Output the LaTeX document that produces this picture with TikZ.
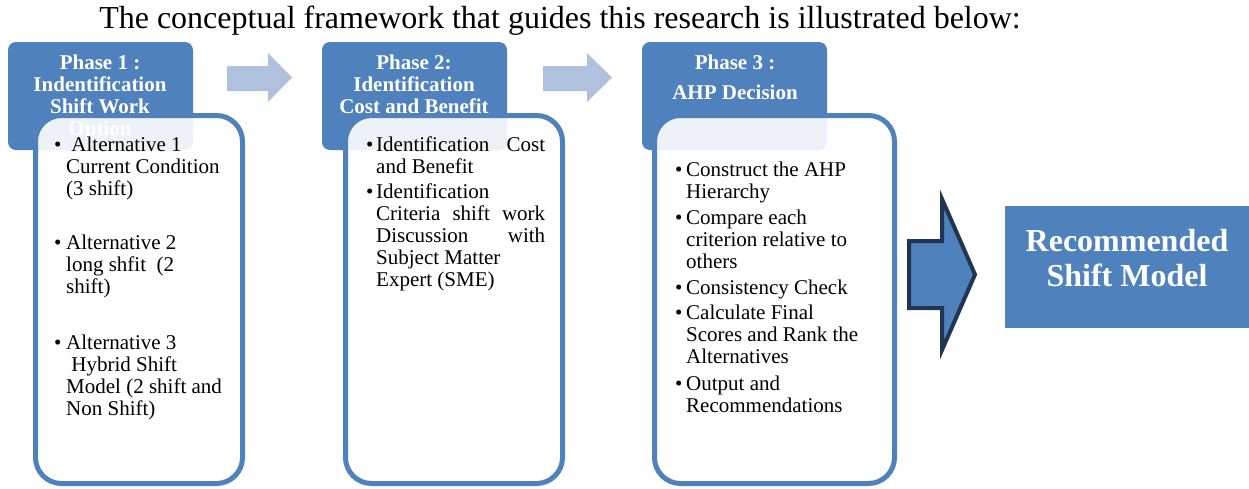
\documentclass[tikz,border=0pt]{standalone}
\usepackage{fontspec}
\setmainfont{Liberation Serif}
\definecolor{phaseblue}{RGB}{79,129,189}
\definecolor{paleblue}{RGB}{176,193,222}
\definecolor{navy}{RGB}{31,53,82}
% bullet item with hanging lines; #1 = width reserved for the bullet
\newcommand{\bitem}[2]{\makebox[#1][l]{\textbullet}\begin{tabular}[t]{@{}l@{}}#2\end{tabular}}
\newcommand{\jline}[1]{\makebox[169pt][s]{#1}}
\newcommand{\hlines}[1]{\begin{tabular}[t]{@{}c@{}}#1\end{tabular}}
\begin{document}
\begin{tikzpicture}[x=1pt,y=-1pt,
  header/.style={fill=phaseblue, rounded corners=8pt, inner sep=0, outer sep=0},
  panel/.style={draw=phaseblue, line width=5pt, fill=white, fill opacity=0.9,
                rounded corners=26pt, inner sep=0, outer sep=0},
  htext/.style={text=white, font=\bfseries\fontsize{21}{22}\selectfont,
                inner sep=0, anchor=base},
  btext/.style={font=\fontsize{21}{22}\selectfont, inner sep=0, anchor=base west},
  flow/.style={fill=paleblue},
  result/.style={fill=phaseblue, inner sep=0},
  resulttext/.style={text=white, align=center, inner sep=0,
                 font=\bfseries\fontsize{32}{35}\selectfont}]
\useasboundingbox (0,0) rectangle (1249,488);

% title line
\node[anchor=base, inner sep=0, font=\fontsize{32}{34}\selectfont] (title) at (560,28)
  {The conceptual framework that guides this research is illustrated below:};

% phase headers
\node[header, minimum width=185pt, minimum height=108pt] (h1) at (100.5,96) {};
\node[header, minimum width=185pt, minimum height=108pt] (h2) at (414.5,96) {};
\node[header, minimum width=185pt, minimum height=108pt] (h3) at (734.5,96) {};
\node[htext] (t1) at (100,69) {\hlines{Phase 1 :\\Indentification\\Shift Work\\Option}};
\node[htext] (t2) at (414,69) {\hlines{Phase 2:\\Identification\\Cost and Benefit}};
\node[htext] (t3) at (735,69) {\hlines{Phase 3 :\\[8pt]AHP Decision}};

% content panels
\node[panel, minimum width=207pt, minimum height=368pt] (p1) at (139,299.5) {};
\node[panel, minimum width=217pt, minimum height=368pt] (p2) at (454,299.5) {};
\node[panel, minimum width=240pt, minimum height=368pt] (p3) at (774.5,299.5) {};

% phase 1 items
\node[btext] (a1) at (54,151) {\bitem{12pt}{\ Alternative 1\\Current Condition\\(3 shift)}};
\node[btext] (a2) at (54,249) {\bitem{12pt}{Alternative 2\\long shfit\ \ (2\\shift)}};
\node[btext] (a3) at (54,349) {\bitem{12pt}{Alternative 3\\\ Hybrid Shift\\Model (2 shift and\\Non Shift)}};

% phase 2 items
\node[btext] (c1) at (366,151) {\bitem{10pt}{\jline{Identification\hfill Cost}\\and Benefit}};
\node[btext] (c2) at (366,198) {\bitem{10pt}{Identification\\\jline{Criteria\hfill shift\hfill work}\\\jline{Discussion\hfill with}\\Subject Matter\\Expert (SME)}};

% phase 3 items
\node[btext] (d1) at (675,176) {\bitem{11pt}{Construct the AHP\\Hierarchy}};
\node[btext] (d2) at (675,224) {\bitem{11pt}{Compare each\\criterion relative to\\others}};
\node[btext] (d3) at (675,294) {\bitem{11pt}{Consistency Check}};
\node[btext] (d4) at (675,319) {\bitem{11pt}{Calculate Final\\Scores and Rank the\\Alternatives}};
\node[btext] (d5) at (675,390) {\bitem{11pt}{Output and\\Recommendations}};

% block arrows between phases
\fill[flow] (227,66) -- (268,66) -- (268,53) -- (292,77.5) -- (268,102) -- (268,91) -- (227,91) -- cycle;
\fill[flow] (543,66) -- (587,66) -- (587,53) -- (612,77.5) -- (587,102) -- (587,91) -- (543,91) -- cycle;

% large arrow towards the result
\draw[fill=phaseblue, draw=navy, line width=4pt, line join=miter]
  (909,241) -- (942,241) -- (942,199) -- (975,274.5) -- (942,350) -- (942,308) -- (909,308) -- cycle;

% result box and its caption
\node[result, minimum width=244pt, minimum height=122pt] (rec) at (1127,267) {};
\node[resulttext] (rectext) at (1127,258) {Recommended\\Shift Model};
\end{tikzpicture}
\end{document}
